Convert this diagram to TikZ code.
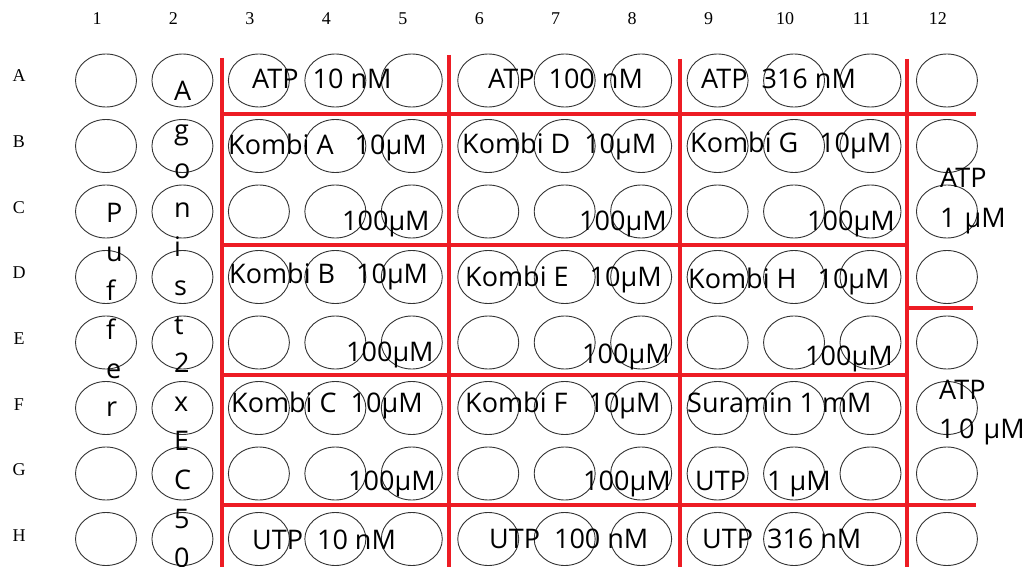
\documentclass[tikz,border=0pt]{standalone}
\usepackage{fontspec}
\newfontfamily\wellfont{Open Sans}
\newfontfamily\gridfont{Liberation Serif}
\usetikzlibrary{shapes.geometric}
\definecolor{platered}{RGB}{237,28,36}

\begin{document}
\begin{tikzpicture}[x=1pt,y=-1pt,
    well/.style={ellipse,draw=black!80,line width=0.9pt,minimum width=61pt,minimum height=53pt,inner sep=0pt},
    welltext/.style={anchor=base west,inner sep=0pt,font=\wellfont\fontsize{27}{38.85}\selectfont},
    stacktext/.style={welltext,text width=20pt,align=left},
    gridlabel/.style={anchor=base,inner sep=0pt,font=\gridfont\fontsize{18}{20}\selectfont},
    divider/.style={draw=platered,line width=4pt}]
  \path[use as bounding box,fill=white] (0,0) rectangle (1033,567);
  % wells and row letters
  \foreach \rowname [count=\j from 0] in {A,B,C,D,E,F,G,H} {
    \node[gridlabel] (row\rowname) at (19,81.7+65.7*\j) {\rowname};
    \foreach \col in {1,...,12}
      \node[well] (\rowname\col) at (106+76.45*\col-76.45,80.5+65.5*\j) {};
  }
  \foreach \col in {1,...,12}
    \node[gridlabel] (col\col) at (97+76.45*\col-76.45,25) {\col};
  % red dividers
  \draw[divider] (222,58) -- (222,567);
  \draw[divider] (449,55) -- (449,567);
  \draw[divider] (680,59) -- (680,567);
  \draw[divider] (907,59) -- (907,567);
  \draw[divider] (222,114.5) -- (976,114.5);
  \draw[divider] (222,244.5) -- (907,244.5);
  \draw[divider] (222,374.5) -- (907,374.5);
  \draw[divider] (222,504.7) -- (976,504.7);
  \draw[divider] (907,307.7) -- (973,307.7);
  % columns 1 and 2
  \node[stacktext] (puffer) at (106,222.7) {P\\u\\f\\f\\e\\r};
  \node[stacktext] (agonist) at (174,101) {A\\g\\o\\n\\i\\s\\t\\2\\x\\E\\C\\5\\0};
  % row A
  \node[welltext] (atp10) at (252,88.3) {ATP~~10 nM};
  \node[welltext] (atp100) at (488,89) {ATP~~100 nM};
  \node[welltext] (atp316) at (701,88.3) {ATP~~316 nM};
  % rows B and C
  \node[welltext] (kombiA) at (228,154) {Kombi A~~~10µM};
  \node[welltext] (kombiD) at (462,153.3) {Kombi D~~10µM};
  \node[welltext] (kombiG) at (690,153) {Kombi G~~~10µM};
  \node[welltext] (kombiA100) at (342,230) {100µM};
  \node[welltext] (kombiD100) at (579,230) {100µM};
  \node[welltext] (kombiG100) at (807,230) {100µM};
  % rows D and E
  \node[welltext] (kombiB) at (229,283) {Kombi B~~~10µM};
  \node[welltext] (kombiE) at (465,286) {Kombi E~~~10µM};
  \node[welltext] (kombiH) at (688,288) {Kombi H~~~10µM};
  \node[welltext] (kombiB100) at (346,361.7) {100µM};
  \node[welltext] (kombiE100) at (582,363.3) {100µM};
  \node[welltext] (kombiH100) at (805,365) {100µM};
  % rows F and G
  \node[welltext] (kombiC) at (231,412.7) {Kombi C~~10µM};
  \node[welltext] (kombiF) at (465,412.7) {Kombi F~~~10µM};
  \node[welltext] (suramin) at (687,412.7) {Suramin 1 mM};
  \node[welltext] (kombiC100) at (348,490) {100µM};
  \node[welltext] (kombiF100) at (583,490) {100µM};
  \node[welltext] (utp1) at (695,490) {UTP~~~1 µM};
  % row H
  \node[welltext] (utp10) at (252,549) {UTP~~10 nM};
  \node[welltext] (utp100) at (489,548.3) {UTP~~100 nM};
  \node[welltext] (utp316) at (702,548.3) {UTP~~316 nM};
  % column 12
  \node[stacktext,text width=90pt,font=\wellfont\fontsize{27}{40}\selectfont] (atp1) at (940,187.7) {ATP\\1 µM};
  \node[stacktext,text width=90pt,font=\wellfont\fontsize{27}{39}\selectfont] (atp1-0) at (939,399.3) {ATP\\1\,0 µM};
\end{tikzpicture}
\end{document}
